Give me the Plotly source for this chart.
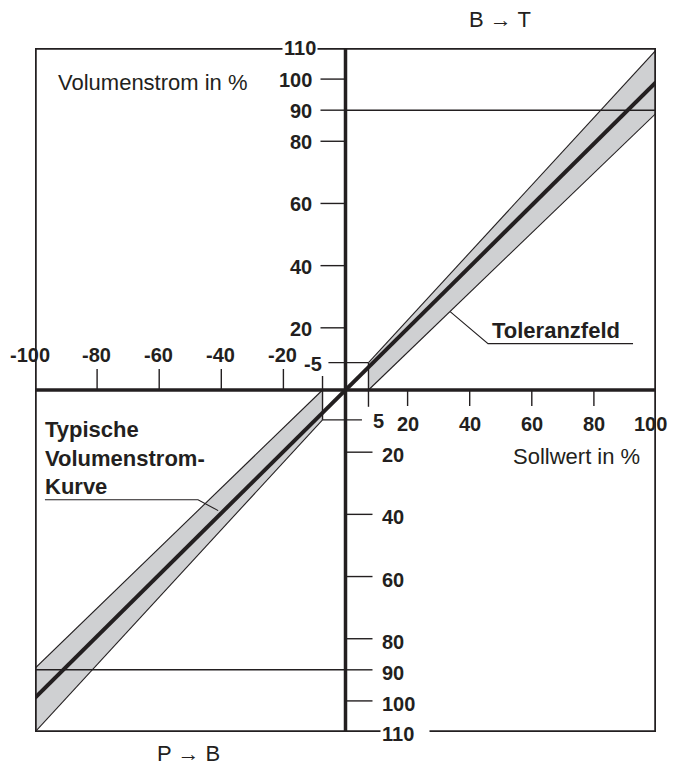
import plotly.graph_objects as go

# ---------------- data ----------------
x_limits = [-100, 100]
y_limits = [-110, 110]

curve_x = [-100, 0, 100]
curve_y = [-99, 0, 99]

band_pos_x = [7.4, 100]
band_pos_upper = [8.8, 109.3]
band_pos_lower = [0, 89]
band_neg_x = [-7.4, -100]
band_neg_upper = [0, -89.5]
band_neg_lower = [-9.6, -110]

ref_level = 90

x_ticks_neg = [-80, -60, -40, -20]
x_ticks_pos = [20, 40, 60, 80]
x_labels_neg = ["-100", "-80", "-60", "-40", "-20"]
x_labels_neg_pos = [-100, -80, -60, -40, -20]
x_labels_pos = ["20", "40", "60", "80", "100"]
x_labels_pos_pos = [20, 40, 60, 80, 100]

y_ticks_pos = [20, 40, 60, 80, 90, 100]
y_labels_pos = ["20", "40", "60", "80", "90", "100"]
y_ticks_neg = [-20, -40, -60, -80, -90, -100]
y_labels_neg = ["20", "40", "60", "80", "90", "100"]

small_x = 7.4
small_y_pos = 8.8
small_y_neg = -9.6

tol_leader_x = [33.7, 45.9, 92.6]
tol_leader_y = [25.2, 14.9, 14.9]
typ_leader_x = [-96.8, -47.5, -41.0]
typ_leader_y = [-35.3, -35.3, -38.8]

# ---------------- style ----------------
INK = "#231f20"
GRAY = "#cfd0d2"
FONT = "Liberation Sans, Arial, sans-serif"

fig = go.Figure()

# tolerance band fills
fig.add_trace(go.Scatter(
    x=band_pos_x + band_pos_x[::-1],
    y=band_pos_lower + band_pos_upper[::-1],
    fill="toself", fillcolor=GRAY, mode="none", hoverinfo="skip"))
fig.add_trace(go.Scatter(
    x=band_neg_x + band_neg_x[::-1],
    y=band_neg_upper + band_neg_lower[::-1],
    fill="toself", fillcolor=GRAY, mode="none", hoverinfo="skip"))

# band outlines
for yy, xx in [(band_pos_upper, band_pos_x), (band_pos_lower, band_pos_x),
               (band_neg_upper, band_neg_x), (band_neg_lower, band_neg_x)]:
    fig.add_trace(go.Scatter(x=xx, y=yy, mode="lines",
                             line=dict(color=INK, width=1.1), hoverinfo="skip"))

# 90 % reference lines
fig.add_trace(go.Scatter(x=[0, x_limits[1]], y=[ref_level, ref_level], mode="lines",
                         line=dict(color=INK, width=1.4), hoverinfo="skip"))
fig.add_trace(go.Scatter(x=[x_limits[0], 0], y=[-ref_level, -ref_level], mode="lines",
                         line=dict(color=INK, width=1.4), hoverinfo="skip"))

# leader lines
fig.add_trace(go.Scatter(x=tol_leader_x, y=tol_leader_y, mode="lines",
                         line=dict(color=INK, width=1.1), hoverinfo="skip"))
fig.add_trace(go.Scatter(x=typ_leader_x, y=typ_leader_y, mode="lines",
                         line=dict(color=INK, width=1.1), hoverinfo="skip"))

# typical curve
fig.add_trace(go.Scatter(x=curve_x, y=curve_y, mode="lines",
                         line=dict(color=INK, width=4), hoverinfo="skip"))

shapes = []
# outer box
shapes.append(dict(type="rect", xref="x", yref="y", x0=x_limits[0], x1=x_limits[1],
                   y0=y_limits[0], y1=y_limits[1], line=dict(color=INK, width=3.5),
                   layer="above"))
# axes
shapes.append(dict(type="line", xref="x", yref="y", x0=0, x1=0, y0=y_limits[0], y1=y_limits[1],
                   line=dict(color=INK, width=3.5), layer="above"))
shapes.append(dict(type="line", xref="x", yref="y", x0=x_limits[0], x1=x_limits[1], y0=0, y1=0,
                   line=dict(color=INK, width=3.5), layer="above"))

tick_line = dict(color=INK, width=1.4)
for v in y_ticks_pos:
    shapes.append(dict(type="line", xref="x", yref="y", xsizemode="pixel", xanchor=0,
                       x0=-25, x1=0, y0=v, y1=v, line=tick_line, layer="above"))
for v in y_ticks_neg:
    shapes.append(dict(type="line", xref="x", yref="y", xsizemode="pixel", xanchor=0,
                       x0=0, x1=27, y0=v, y1=v, line=tick_line, layer="above"))
for v in x_ticks_neg:
    shapes.append(dict(type="line", xref="x", yref="y", ysizemode="pixel", yanchor=0,
                       y0=0, y1=21, x0=v, x1=v, line=tick_line, layer="above"))
for v in x_ticks_pos:
    shapes.append(dict(type="line", xref="x", yref="y", ysizemode="pixel", yanchor=0,
                       y0=-16, y1=0, x0=v, x1=v, line=tick_line, layer="above"))

# small ticks that also close the band
shapes.append(dict(type="line", xref="x", yref="y", x0=-5.5, x1=small_x,
                   y0=small_y_pos, y1=small_y_pos, line=tick_line, layer="above"))
shapes.append(dict(type="line", xref="x", yref="y", x0=small_x, x1=small_x,
                   y0=small_y_pos, y1=-5.4, line=tick_line, layer="above"))
shapes.append(dict(type="line", xref="x", yref="y", x0=-small_x, x1=5.3,
                   y0=small_y_neg, y1=small_y_neg, line=tick_line, layer="above"))
shapes.append(dict(type="line", xref="x", yref="y", x0=-small_x, x1=-small_x,
                   y0=4.5, y1=small_y_neg, line=tick_line, layer="above"))

ann = []
num_font = dict(family=FONT, size=20, color=INK)


def lab(text, x, y, xanchor="center", yanchor="middle", xshift=0, yshift=0, **kw):
    ann.append(dict(text="<b>%s</b>" % text, x=x, y=y, xref="x", yref="y", showarrow=False,
                    xanchor=xanchor, yanchor=yanchor, xshift=xshift, yshift=yshift,
                    font=num_font, **kw))


for v, t in zip(y_ticks_pos, y_labels_pos):
    lab(t, 0, v, xanchor="right", xshift=-32, yshift=-1)
lab("-5", 0, small_y_pos, xanchor="right", xshift=-22, yshift=-1)
for v, t in zip(y_ticks_neg, y_labels_neg):
    lab(t, 0, v, xanchor="left", xshift=34, yshift=-3)
lab("5", 0, small_y_neg, xanchor="left", xshift=25, yshift=-1)
for v, t in zip(x_labels_neg_pos, x_labels_neg):
    lab(t, v, 0, yshift=35, xshift=(-5 if v == x_labels_neg_pos[0] else -1))
for v, t in zip(x_labels_pos_pos[:-1], x_labels_pos[:-1]):
    lab(t, v, 0, yshift=-34)
# last label kept inside the visible page width
lab(x_labels_pos[-1], x_labels_pos_pos[-1], 0, xanchor="right", yshift=-34, xshift=13)

# 110 labels on the border
lab("110", -14.7, y_limits[1], bgcolor="white", borderpad=1)
ann.append(dict(text="<b>110</b>", x=0, y=y_limits[0], xref="x", yref="y", showarrow=False,
                xanchor="left", yanchor="middle", xshift=34, yshift=-2, width=46, align="left",
                bgcolor="white", borderpad=1, font=num_font))

txt_font = dict(family=FONT, size=22, color=INK)
ann.append(dict(text="Volumenstrom in %", x=-93.2, y=98.9, xref="x", yref="y", showarrow=False,
                xanchor="left", yanchor="middle", font=txt_font))
ann.append(dict(text="Sollwert in %", x=95.5, y=-21.4, xref="x", yref="y", showarrow=False,
                xanchor="right", yanchor="middle", font=txt_font))
ann.append(dict(text="B \u2192 T", x=49.8, y=1.041, xref="x", yref="paper", showarrow=False,
                xanchor="center", yanchor="middle", font=txt_font))
ann.append(dict(text="P \u2192 B", x=-50.7, y=-0.031, xref="x", yref="paper", showarrow=False,
                xanchor="center", yanchor="middle", font=txt_font))
ann.append(dict(text="<b>Toleranzfeld</b>", x=46.5, y=19.2, xref="x", yref="y", showarrow=False,
                xanchor="left", yanchor="middle", font=txt_font))
ann.append(dict(text="<b>Typische<br>Volumenstrom-<br>Kurve</b>", x=-97.4, y=-21.9, xref="x",
                yref="y", showarrow=False, xanchor="left", yanchor="middle", align="left",
                font=txt_font))

# the page adds an 8 px body margin, so the plot area is offset accordingly
fig.update_layout(
    width=677, height=767,
    margin=dict(l=27, r=29, t=40, b=43),
    paper_bgcolor="white", plot_bgcolor="white",
    showlegend=False,
    xaxis=dict(range=x_limits, visible=False, fixedrange=True),
    yaxis=dict(range=y_limits, visible=False, fixedrange=True),
    shapes=shapes, annotations=ann,
)

fig.write_html("out.html")
